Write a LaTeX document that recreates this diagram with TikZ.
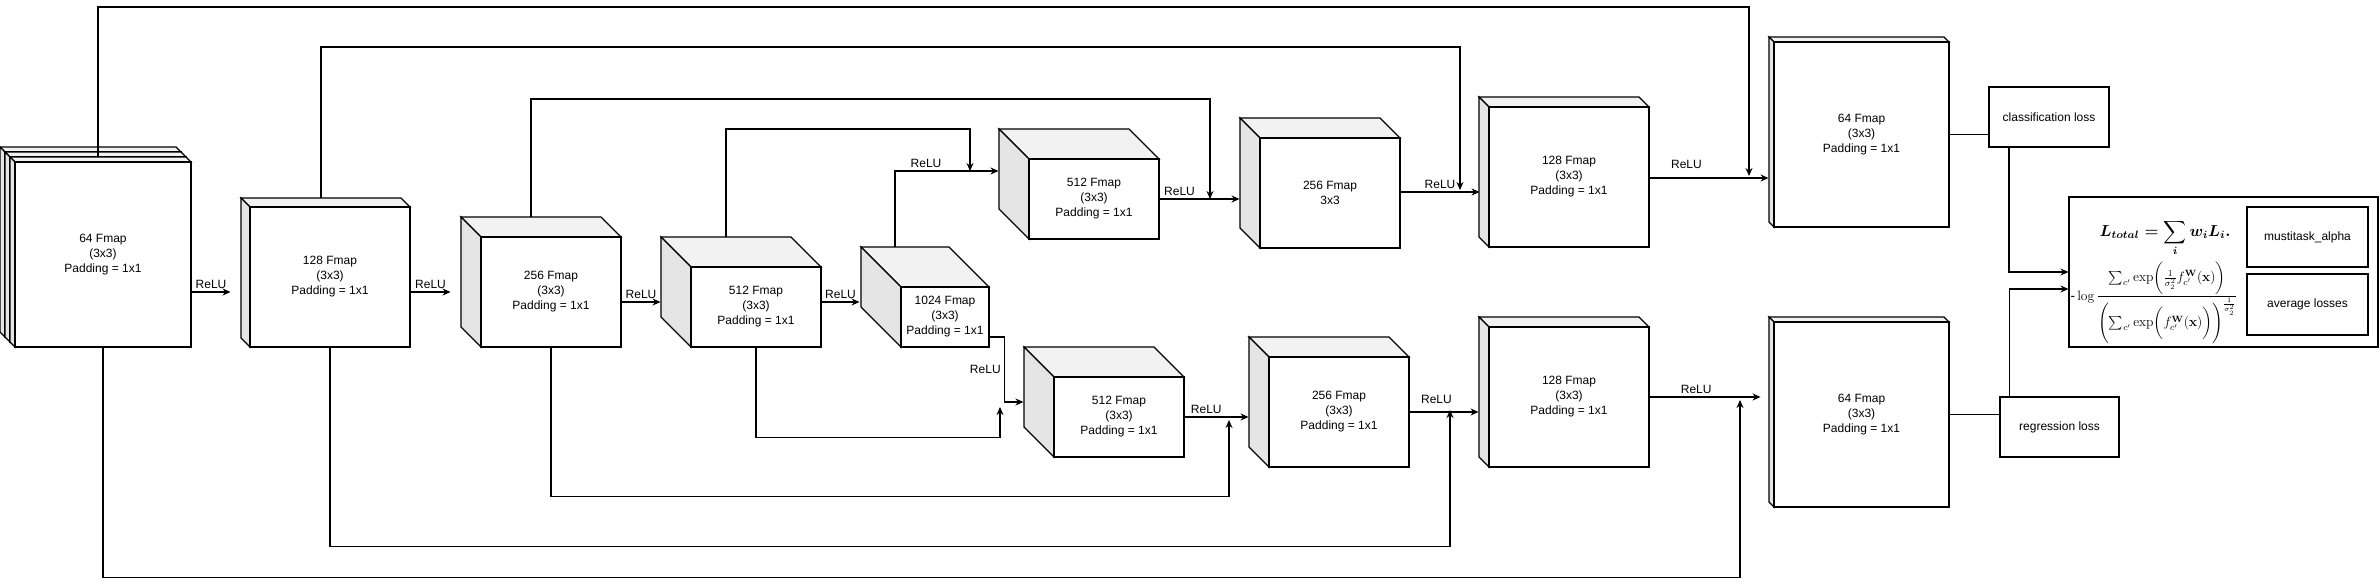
\documentclass[tikz,border=0pt]{standalone}
\usepackage{amsmath}
\usepackage{graphicx}
\usepackage[no-math]{fontspec}
\setmainfont{Liberation Sans}
\usetikzlibrary{arrows.meta}

\newcommand{\fmapfont}{\fontsize{12}{15}\selectfont}
% front face (#2,#3)-(#4,#5), depth #6
\newcommand{\fmapcube}[7]{%
  \filldraw[cubetop] ({#2},{#3}) -- ({#2-#6},{#3-#6}) -- ({#4-#6},{#3-#6}) -- ({#4},{#3}) -- cycle;
  \filldraw[cubeside] ({#2},{#3}) -- ({#2-#6},{#3-#6}) -- ({#2-#6},{#5-#6}) -- ({#2},{#5}) -- cycle;
  \node[fmap, minimum width={(#4-#2)*1pt}, minimum height={(#5-#3)*1pt}] (#1) at ({(#2+#4)/2},{(#3+#5)/2}) {#7};
  \coordinate (#1-top) at ({(#2+#4)/2-#6},{#3-#6});
}

\begin{document}
\begin{tikzpicture}[x=1pt, y=-1pt, line width=1.1pt,
  every node/.style={font=\fmapfont},
  fmap/.style={draw, fill=white, align=center, inner sep=0pt},
  cubetop/.style={fill=black!5},
  cubeside/.style={fill=black!10},
  lossbox/.style={draw, align=center, inner sep=0pt},
  arr/.style={-{Stealth[length=8pt,width=7pt]}}]
\useasboundingbox (0,0) rectangle (2380,586);

% encoder
\fmapcube{e64a}{5}{152}{181}{337}{5}{}
\fmapcube{e64b}{10}{157}{186}{342}{5}{}
\fmapcube{e64}{15}{162}{191}{347}{5}{64 Fmap\\(3x3)\\Padding = 1x1}
\fmapcube{e128}{250}{207}{410}{347}{9}{128 Fmap\\(3x3)\\Padding = 1x1}
\fmapcube{e256}{481}{237}{621}{347}{20}{256 Fmap\\(3x3)\\Padding = 1x1}
\fmapcube{e512}{691}{267}{821}{347}{30}{512 Fmap\\(3x3)\\Padding = 1x1}
\fmapcube{b1024}{901}{287}{989}{347}{40}{1024 Fmap\\(3x3)\\Padding = 1x1}

% classification branch
\fmapcube{c512}{1029}{159}{1159}{239}{30}{512 Fmap\\(3x3)\\Padding = 1x1}
\fmapcube{c256}{1260}{138}{1400}{248}{20}{256 Fmap\\3x3}
\fmapcube{c128}{1489}{107}{1649}{247}{10}{128 Fmap\\(3x3)\\Padding = 1x1}
\fmapcube{c64}{1774}{42}{1949}{227}{5}{64 Fmap\\(3x3)\\Padding = 1x1}

% regression branch
\fmapcube{r512}{1054}{377}{1184}{457}{30}{512 Fmap\\(3x3)\\Padding = 1x1}
\fmapcube{r256}{1269}{357}{1409}{467}{20}{256 Fmap\\(3x3)\\Padding = 1x1}
\fmapcube{r128}{1489}{327}{1649}{467}{10}{128 Fmap\\(3x3)\\Padding = 1x1}
\fmapcube{r64}{1774}{322}{1949}{507}{5}{64 Fmap\\(3x3)\\Padding = 1x1}

% losses
\node[lossbox, minimum width=120pt, minimum height=60pt] (closs) at (2049,117) {classification loss};
\node[lossbox, minimum width=119pt, minimum height=60pt] (rloss) at (2059.5,427) {regression loss};
\node[lossbox, minimum width=309pt, minimum height=150pt] (ltotal) at (2223.5,272) {};
\node[lossbox, minimum width=121pt, minimum height=60pt] (alpha) at (2307.5,237) {mustitask\_alpha};
\node[lossbox, minimum width=121pt, minimum height=61pt] (avg) at (2307.5,304.5) {average losses};
\node[inner sep=0pt] (ftotal) at (2165,238) {\resizebox{131pt}{!}{\boldmath$\displaystyle L_{total} = \sum_{i} w_i L_i.$}};
\node[inner sep=0pt] (func) at (2154,303) {\resizebox{167pt}{!}{-\,$\displaystyle\log\frac{\sum_{c'}\exp\biggl(\frac{1}{\sigma_2^2}f_{c'}^{\mathbf{W}}(\mathbf{x})\biggr)}{\Biggl(\sum_{c'}\exp\biggl(f_{c'}^{\mathbf{W}}(\mathbf{x})\biggr)\Biggr)^{\frac{1}{\sigma_2^2}}}$}};

% main chain
\draw[arr] ([yshift=-37.5pt]e64.east) -- ++(39,0) node[midway,above] {ReLU};
\draw[arr] ([yshift=-15pt]e128.east) -- ++(40,0) node[midway,above] {ReLU};
\draw[arr] ([yshift=-10pt]e256.east) -- ++(39,0) node[midway,above] {ReLU};
\draw[arr] ([yshift=5pt]e512.east) -- ++(38,0) node[midway,above] {ReLU};
\draw[arr] ([yshift=-20pt]b1024.east) -- ++(15,0) |- node[pos=0.25,left] {ReLU} ([xshift=-30pt,yshift=15pt]r512.west);
\draw[arr] ([xshift=-10pt]b1024-top) |- node[pos=0.65,above] {ReLU} ([xshift=-30pt,yshift=28pt]c512.west);
\draw[arr] (c512.east) -- ++(80,0) node[pos=0.25,above] {ReLU};
\draw[arr] ([yshift=1pt]c256.east) -- ++(79,0) node[midway,above] {ReLU};
\draw[arr] ([yshift=-1pt]c128.east) -- ++(119,0) node[pos=0.31,above=6pt] {ReLU};
\draw[arr] (r512.east) -- ++(64,0) node[pos=0.34,above] {ReLU};
\draw[arr] (r256.east) -- ++(69,0) node[pos=0.39,above=5pt] {ReLU};
\draw[arr] (r128.east) -- ++(111,0) node[pos=0.42,above] {ReLU};

% skip connections
\coordinate (j64) at (1740,400);
\coordinate (j128) at (1450,410);
\coordinate (j256) at (1229,420);
\coordinate (j512) at (1000,407);
\coordinate (k64) at (1749,176);
\coordinate (k128) at (1460,190);
\coordinate (k256) at (1210,199);
\coordinate (k512) at (970,171);
\draw[arr] (e64.south) -- ++(0,230) -| (j64);
\draw[arr] (e128.south) -- ++(0,199) -| (j128);
\draw[arr] (e256.south) -- ++(0,149) -| (j256);
\draw[arr] (e512.south) -- ++(0,90) -| (j512);
\draw[arr] (e64-top) -- ++(0,-150) -| (k64);
\draw[arr] (e128-top) -- ++(0,-151) -| (k128);
\draw[arr] (e256-top) -- ++(0,-118) -| (k256);
\draw[arr] (e512-top) -- ++(0,-108) -| (k512);

% heads to losses
\draw (c64.east) -- (c64.east -| closs.west);
\draw (r64.east) -- (r64.east -| rloss.west);
\draw[arr] ([xshift=-40pt]closs.south) |- (ltotal.west);
\draw[arr] ([xshift=-50pt]rloss.north) |- ([yshift=-17pt]ltotal.west);
\end{tikzpicture}
\end{document}
